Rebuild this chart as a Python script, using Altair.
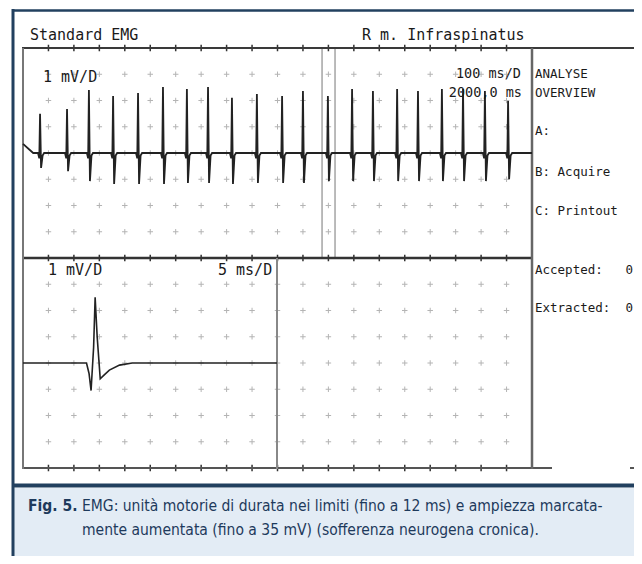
import altair as alt
import pandas as pd

# ---------------- data ----------------
# Upper panel: 100 ms/D, 1 mV/D, 2000 ms sweep of motor-unit discharges
spike_ms = [67, 173, 259, 354, 452, 550, 644, 727, 821, 919, 1018,
            1100, 1198, 1293, 1375, 1470, 1552, 1646, 1729, 1815, 1906]
spike_peak_mv = [1.49, 1.68, 2.40, 2.17, 2.29, 2.51, 2.44, 2.51, 2.10, 2.25, 2.17,
                 2.36, 2.17, 2.44, 2.36, 2.44, 2.36, 2.44, 2.44, 2.36, 1.98]
spike_trough_mv = [-0.57, -0.69, -1.07, -1.18, -1.18, -1.18, -1.14, -1.14, -1.18, -1.14, -1.14,
                   -1.14, -1.07, -1.07, -1.07, -1.07, -1.07, -1.07, -1.07, -1.07, -1.00]
trace_start_ms = [0, 40]
trace_start_mv = [0.35, 0.0]
cursor_ms = [1175, 1226]

# Lower panel: 5 ms/D, 1 mV/D, averaged motor unit potential
mup_ms = [0, 12.5, 13.0, 13.4, 13.9, 14.2, 14.6, 15.2, 16.0, 17.0, 19.0, 21.5, 50]
mup_mv = [0, 0, -0.4, -1.05, 0.6, 2.5, 1.0, -0.6, -0.45, -0.27, -0.08, 0, 0]

# screen grid: 20 x 16 divisions
grid_cols = list(range(1, 20))
grid_rows = [r for r in range(1, 16) if r != 8]
tick_rows = [0, 8, 16]

title_left = "Standard EMG"
title_right = "R m. Infraspinatus"
upper_gain = "1 mV/D"
upper_sweep = "100 ms/D"
upper_total = "2000,0 ms"
menu_items = ["ANALYSE", "OVERVIEW", "A:", "B: Acquire", "C: Printout"]
lower_gain = "1 mV/D"
lower_sweep = "5 ms/D"
counters = ["Accepted:", "Extracted:"]
counter_values = ["0", "0"]
caption_tag = "Fig. 5."
caption_line1 = "EMG: unità motorie di durata nei limiti (fino a 12 ms) e ampiezza marcata-"
caption_line2 = "mente aumentata (fino a 35 mV) (sofferenza neurogena cronica)."

# ---------------- build tables ----------------
up_rows = [(t, v) for t, v in zip(trace_start_ms, trace_start_mv)]
for t, pk, tr in zip(spike_ms, spike_peak_mv, spike_trough_mv):
    up_rows += [(t - 8, 0.0), (t - 3, -0.2), (t, pk), (t + 4, tr), (t + 10, -0.1), (t + 16, 0.0)]
up_rows.append((2000, 0.0))
upper_df = pd.DataFrame({"ms": [r[0] for r in up_rows], "mv": [r[1] for r in up_rows],
                         "i": list(range(len(up_rows)))})
mup_df = pd.DataFrame({"ms": mup_ms, "mv": mup_mv, "i": list(range(len(mup_ms)))})
cursor_df = pd.DataFrame({"ms": cursor_ms})
grid_df = pd.DataFrame([{"c": c, "r": r} for c in grid_cols for r in grid_rows])
tick_df = pd.DataFrame([{"c": c, "r": r} for c in grid_cols for r in tick_rows])
one = pd.DataFrame({"k": [0]})

# ---------------- layout helpers (page px -> chart px) ----------------
def P(v):
    return v - 8

X_UP = alt.Scale(domain=[0, 2000], range=[P(23), P(532)], nice=False, zero=False)
Y_UP = alt.Scale(domain=[-4, 4], range=[P(258), P(48)], nice=False, zero=False)
X_LO = alt.Scale(domain=[0, 50], range=[P(23), P(277)], nice=False, zero=False)
Y_LO = alt.Scale(domain=[-4, 4], range=[P(468), P(258)], nice=False, zero=False)
X_DIV = alt.Scale(domain=[0, 20], range=[P(23), P(532)], nice=False, zero=False)
Y_DIV = alt.Scale(domain=[0, 16], range=[P(48), P(468)], nice=False, zero=False)

NAVY = "#22405f"
INK = "#1a1a1a"
MONO = "DejaVu Sans Mono"
NARROW = "'Liberation Sans Narrow', 'DejaVu Sans Condensed', 'Roboto Condensed', sans-serif"
CROSS = "M-1,0L1,0M0,-1L0,1"


def hline(x1, x2, y, color, w):
    return alt.Chart(one).mark_rule(color=color, strokeWidth=w).encode(
        x=alt.value(P(x1)), x2=alt.value(P(x2)), y=alt.value(P(y)))


def vline(x, y1, y2, color, w):
    return alt.Chart(one).mark_rule(color=color, strokeWidth=w).encode(
        x=alt.value(P(x)), y=alt.value(P(y1)), y2=alt.value(P(y2)))


def label(text, x, y, size, font=MONO, color=INK, align="left", weight="normal"):
    return alt.Chart(one).mark_text(text=text, align=align, baseline="middle", font=font,
                                    fontSize=size, color=color, fontWeight=weight).encode(
        x=alt.value(P(x)), y=alt.value(P(y)))


caption_bg = alt.Chart(one).mark_rect(color="#e3ecf5").encode(
    x=alt.value(P(13)), x2=alt.value(P(650)), y=alt.value(P(488)), y2=alt.value(P(570)))

grid = alt.Chart(grid_df).mark_point(shape=CROSS, size=30, filled=False, color="#b4b4b4",
                                     strokeWidth=1, opacity=1).encode(
    x=alt.X("c:Q", scale=X_DIV, axis=None), y=alt.Y("r:Q", scale=Y_DIV, axis=None))
ticks = alt.Chart(tick_df).mark_point(shape=CROSS, size=40, filled=False, color="#333",
                                      strokeWidth=1.5, opacity=1).encode(
    x=alt.X("c:Q", scale=X_DIV, axis=None), y=alt.Y("r:Q", scale=Y_DIV, axis=None))

cursors = alt.Chart(cursor_df).mark_rule(color="#777", strokeWidth=1).encode(
    x=alt.X("ms:Q", scale=X_UP, axis=None),
    y=alt.value(P(48)), y2=alt.value(P(258)))

upper_trace = alt.Chart(upper_df).mark_line(color="#222", strokeWidth=1.8).encode(
    x=alt.X("ms:Q", scale=X_UP, axis=None), y=alt.Y("mv:Q", scale=Y_UP, axis=None),
    order="i:Q")
lower_trace = alt.Chart(mup_df).mark_line(color="#222", strokeWidth=1.6).encode(
    x=alt.X("ms:Q", scale=X_LO, axis=None), y=alt.Y("mv:Q", scale=Y_LO, axis=None),
    order="i:Q")

frame = [
    hline(22, 650, 48, "#3a3a3a", 2),
    hline(23, 533, 258, "#333", 2.5),
    hline(23, 552, 468, "#555", 2),
    hline(630, 650, 468, "#555", 2),
    vline(23, 48, 469, "#777", 2),
    vline(532, 48, 469, "#666", 2.5),
    vline(277, 258, 469, "#888", 2),
]

texts = [
    label(title_left, 30, 35, 15),
    label(title_right, 362, 35, 15),
    label(upper_gain, 43, 77, 15),
    label(upper_sweep, 521, 74, 13.5, align="right"),
    label(upper_total, 522, 93, 13.5, align="right"),
    label(menu_items[0], 535, 74, 12.5),
    label(menu_items[1], 535, 93, 12.5),
    label(menu_items[2], 535, 131, 12.5),
    label(menu_items[3], 535, 172, 12.5),
    label(menu_items[4], 535, 211, 12.5),
    label(lower_gain, 48, 270, 15),
    label(lower_sweep, 218, 270, 15),
    label(counters[0], 535, 270, 12.5),
    label(counters[1], 535, 308, 12.5),
    label(counter_values[0], 633, 270, 12.5, align="right"),
    label(counter_values[1], 633, 308, 12.5, align="right"),
    label(caption_tag, 28, 506, 15.5, font=NARROW, color="#1e3a5c", weight="bold"),
    label(caption_line1, 82, 506, 15.5, font=NARROW, color="#1e3a5c"),
    label(caption_line2, 82, 530, 15.5, font=NARROW, color="#1e3a5c"),
]

borders = [
    hline(12, 650, 10.5, NAVY, 2.5),
    hline(12, 650, 485.5, NAVY, 4),
    vline(13, 9, 570, NAVY, 3),
]

chart = alt.layer(caption_bg, grid, ticks, cursors, *frame, upper_trace, lower_trace,
                  *texts, *borders).resolve_scale(
    x="independent", y="independent"
).properties(
    width=626, height=548,
    autosize=alt.AutoSizeParams(type="none"),
    padding=0,
    background="white",
).configure_view(stroke=None)

chart.save("out.html", embed_options={"renderer": "svg", "actions": False})
